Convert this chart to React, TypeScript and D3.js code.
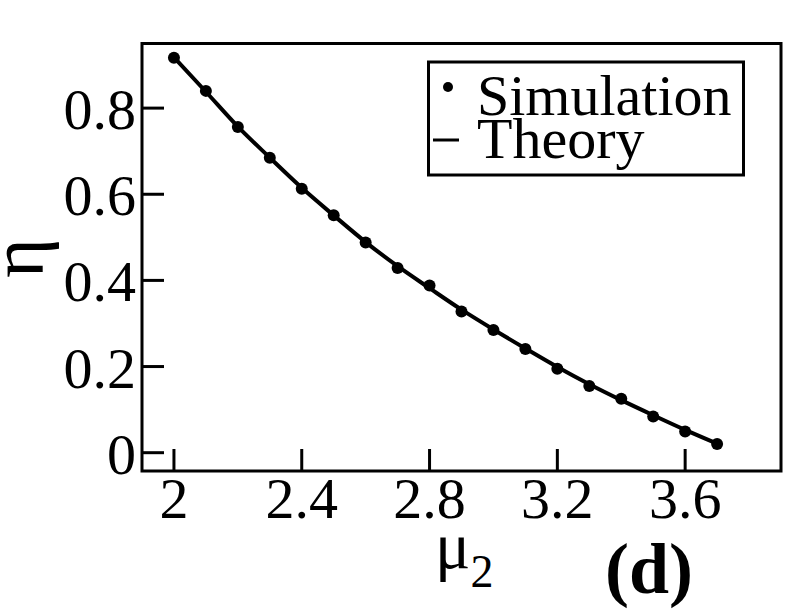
import { useEffect, useRef } from "react";
import * as d3 from "d3";

// mu_2 values, simulation and theory curves
const muValues = [2.0, 2.1, 2.2, 2.3, 2.4, 2.5, 2.6, 2.7, 2.8, 2.9, 3.0, 3.1, 3.2, 3.3, 3.4, 3.5, 3.6, 3.7];
const simulation = [0.917, 0.84, 0.756, 0.685, 0.613, 0.551, 0.488, 0.429, 0.388, 0.328, 0.285, 0.241, 0.195, 0.155, 0.125, 0.084, 0.049, 0.02];
const theory = [0.918, 0.838, 0.757, 0.685, 0.615, 0.551, 0.489, 0.433, 0.382, 0.332, 0.286, 0.242, 0.199, 0.159, 0.122, 0.087, 0.053, 0.021];
const xTicks = [2, 2.4, 2.8, 3.2, 3.6];
const yTicks = [0, 0.2, 0.4, 0.6, 0.8];
const legendLabels = ["Simulation", "Theory"];

export default function App() {
  const ref = useRef<SVGSVGElement | null>(null);

  useEffect(() => {
    if (!ref.current) return;
    const svg = d3.select(ref.current);
    svg.selectAll("*").remove();

    const font = "'Liberation Serif', 'Times New Roman', serif";
    const left = 142, right = 781, top = 43.5, bottom = 471;
    const tickLen = 22;

    const x = d3.scaleLinear().domain([1.9, 3.9]).range([left, right]);
    const y = d3.scaleLinear().domain([-0.0425, 0.95]).range([bottom, top]);

    // theory curve
    const line = d3
      .line<number>()
      .x((_, i) => x(muValues[i]))
      .y((d) => y(d))
      .curve(d3.curveMonotoneX);
    svg
      .append("path")
      .attr("d", line(theory))
      .attr("fill", "none")
      .attr("stroke", "#000")
      .attr("stroke-width", 4);

    // simulation points
    svg
      .append("g")
      .selectAll("circle")
      .data(simulation)
      .join("circle")
      .attr("cx", (_, i) => x(muValues[i]))
      .attr("cy", (d) => y(d))
      .attr("r", 6)
      .attr("fill", "#000");

    // frame
    svg
      .append("rect")
      .attr("x", left)
      .attr("y", top)
      .attr("width", right - left)
      .attr("height", bottom - top)
      .attr("fill", "none")
      .attr("stroke", "#000")
      .attr("stroke-width", 3);

    // x ticks + labels
    const xg = svg.append("g");
    xg.selectAll("line")
      .data(xTicks)
      .join("line")
      .attr("x1", (d) => x(d))
      .attr("x2", (d) => x(d))
      .attr("y1", bottom)
      .attr("y2", bottom - tickLen)
      .attr("stroke", "#000")
      .attr("stroke-width", 3);
    xg.selectAll("text")
      .data(xTicks)
      .join("text")
      .attr("x", (d) => x(d))
      .attr("y", 518)
      .attr("text-anchor", "middle")
      .attr("font-family", font)
      .attr("font-size", 58)
      .text((d) => (d === 2 ? "2" : d3.format(".1f")(d)));

    // y ticks + labels
    const yg = svg.append("g");
    yg.selectAll("line")
      .data(yTicks)
      .join("line")
      .attr("x1", left)
      .attr("x2", left + tickLen)
      .attr("y1", (d) => y(d))
      .attr("y2", (d) => y(d))
      .attr("stroke", "#000")
      .attr("stroke-width", 3);
    yg.selectAll("text")
      .data(yTicks)
      .join("text")
      .attr("x", 136)
      .attr("y", (d) => y(d) + 21)
      .attr("text-anchor", "end")
      .attr("font-family", font)
      .attr("font-size", 58)
      .text((d) => (d === 0 ? "0" : d3.format(".1f")(d)));

    // axis titles
    svg
      .append("text")
      .attr("transform", "translate(43,258) rotate(-90)")
      .attr("text-anchor", "middle")
      .attr("font-family", font)
      .attr("font-size", 76)
      .text("η");

    const xt = svg
      .append("text")
      .attr("x", 435)
      .attr("y", 568)
      .attr("font-family", font)
      .attr("font-size", 66);
    xt.append("tspan").text("μ");
    xt.append("tspan").attr("dy", 19).attr("font-size", 46).text("2");

    svg
      .append("text")
      .attr("x", 605)
      .attr("y", 593)
      .attr("font-family", font)
      .attr("font-weight", "bold")
      .attr("font-size", 72)
      .text("(d)");

    // legend
    const lg = svg.append("g");
    lg.append("rect")
      .attr("x", 428.5)
      .attr("y", 62)
      .attr("width", 315)
      .attr("height", 113)
      .attr("fill", "#fff")
      .attr("stroke", "#000")
      .attr("stroke-width", 3);
    lg.append("circle").attr("cx", 448).attr("cy", 87).attr("r", 5).attr("fill", "#000");
    lg.append("line")
      .attr("x1", 433)
      .attr("x2", 459)
      .attr("y1", 140)
      .attr("y2", 140)
      .attr("stroke", "#000")
      .attr("stroke-width", 3);
    lg.selectAll("text")
      .data(legendLabels)
      .join("text")
      .attr("x", 477)
      .attr("y", (_, i) => 115 + i * 43)
      .attr("font-family", font)
      .attr("font-size", 58)
      .text((d) => d);
  }, []);

  return (
    <svg
      ref={ref}
      width={792}
      height={612}
      style={{ position: "absolute", left: 0, top: 0, background: "#fff" }}
    />
  );
}
